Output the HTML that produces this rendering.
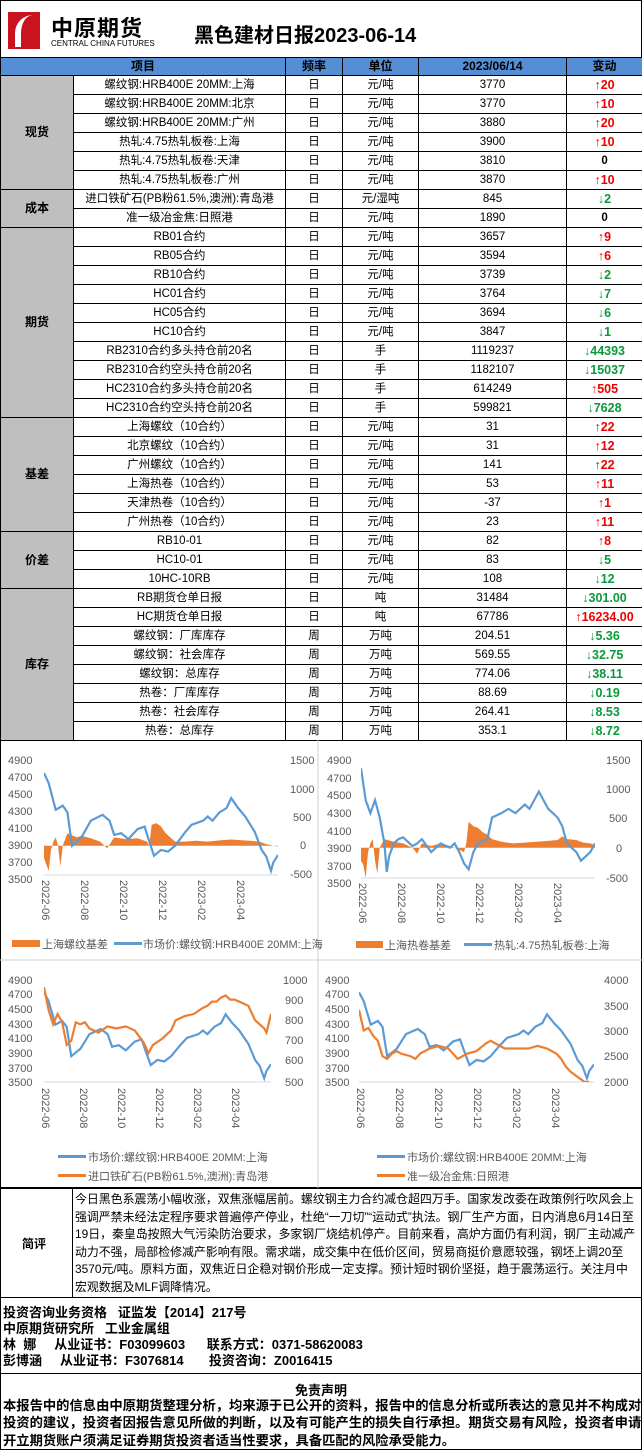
<!DOCTYPE html>
<html><head><meta charset="utf-8"><style>
*{margin:0;padding:0;box-sizing:border-box}
body{width:642px;height:1450px;background:#fff;font-family:"Liberation Sans","Noto Sans CJK SC",sans-serif;position:relative;overflow:hidden;color:#000}
.hdr{position:absolute;left:0;top:0;width:642px;height:57px;border:1px solid #000;border-bottom:none}
table{position:absolute;left:0;top:57px;border-collapse:collapse;table-layout:fixed;width:642px}
td{border:1px solid #000;height:19px;font-size:11.5px;text-align:center;padding:0;white-space:nowrap;line-height:17px}
tr.h td{background:#558ed5;font-weight:bold;height:18px;font-size:12px}
td.c{background:#bfbfbf;font-weight:bold;font-size:12px}
.u{color:#e00;font-weight:bold;font-size:12.5px!important}.d{color:#0a9a3a;font-weight:bold;font-size:12.5px!important}.z{font-weight:bold}
.box{position:absolute;border:1px solid #000}
svg text{font-family:"Liberation Sans","Noto Sans CJK SC",sans-serif;fill:#595959}
</style></head><body>
<div class="hdr">
 <div style="position:absolute;left:7px;top:11px;width:32px;height:37px;background:#c8141e"></div>
 <div style="position:absolute;left:14px;top:14px;width:22px;height:32px;border-left:6px solid #fff;border-radius:18px 0 0 0"></div>
 <div style="position:absolute;left:50px;top:10px;font-size:22px;font-weight:bold;letter-spacing:1px">中原期货</div>
 <div style="position:absolute;left:50px;top:38px;font-size:8px;">CENTRAL CHINA FUTURES</div>
 <div style="position:absolute;left:193px;top:18px;font-size:20px;font-weight:bold">黑色建材日报2023-06-14</div>
</div>
<table>
<colgroup><col style="width:73px"><col style="width:212px"><col style="width:57px"><col style="width:76px"><col style="width:148px"><col style="width:76px"></colgroup>
<tr class="h"><td colspan="2">项目</td><td>频率</td><td>单位</td><td>2023/06/14</td><td>变动</td></tr>
<tr><td class="c" rowspan="6">现货</td><td>螺纹钢:HRB400E 20MM:上海</td><td>日</td><td>元/吨</td><td>3770</td><td class="u">↑20</td></tr>
<tr><td>螺纹钢:HRB400E 20MM:北京</td><td>日</td><td>元/吨</td><td>3770</td><td class="u">↑10</td></tr>
<tr><td>螺纹钢:HRB400E 20MM:广州</td><td>日</td><td>元/吨</td><td>3880</td><td class="u">↑20</td></tr>
<tr><td>热轧:4.75热轧板卷:上海</td><td>日</td><td>元/吨</td><td>3900</td><td class="u">↑10</td></tr>
<tr><td>热轧:4.75热轧板卷:天津</td><td>日</td><td>元/吨</td><td>3810</td><td class="z">0</td></tr>
<tr><td>热轧:4.75热轧板卷:广州</td><td>日</td><td>元/吨</td><td>3870</td><td class="u">↑10</td></tr>
<tr><td class="c" rowspan="2">成本</td><td>进口铁矿石(PB粉61.5%,澳洲):青岛港</td><td>日</td><td>元/湿吨</td><td>845</td><td class="d">↓2</td></tr>
<tr><td>准一级冶金焦:日照港</td><td>日</td><td>元/吨</td><td>1890</td><td class="z">0</td></tr>
<tr><td class="c" rowspan="10">期货</td><td>RB01合约</td><td>日</td><td>元/吨</td><td>3657</td><td class="u">↑9</td></tr>
<tr><td>RB05合约</td><td>日</td><td>元/吨</td><td>3594</td><td class="u">↑6</td></tr>
<tr><td>RB10合约</td><td>日</td><td>元/吨</td><td>3739</td><td class="d">↓2</td></tr>
<tr><td>HC01合约</td><td>日</td><td>元/吨</td><td>3764</td><td class="d">↓7</td></tr>
<tr><td>HC05合约</td><td>日</td><td>元/吨</td><td>3694</td><td class="d">↓6</td></tr>
<tr><td>HC10合约</td><td>日</td><td>元/吨</td><td>3847</td><td class="d">↓1</td></tr>
<tr><td>RB2310合约多头持仓前20名</td><td>日</td><td>手</td><td>1119237</td><td class="d">↓44393</td></tr>
<tr><td>RB2310合约空头持仓前20名</td><td>日</td><td>手</td><td>1182107</td><td class="d">↓15037</td></tr>
<tr><td>HC2310合约多头持仓前20名</td><td>日</td><td>手</td><td>614249</td><td class="u">↑505</td></tr>
<tr><td>HC2310合约空头持仓前20名</td><td>日</td><td>手</td><td>599821</td><td class="d">↓7628</td></tr>
<tr><td class="c" rowspan="6">基差</td><td>上海螺纹（10合约）</td><td>日</td><td>元/吨</td><td>31</td><td class="u">↑22</td></tr>
<tr><td>北京螺纹（10合约）</td><td>日</td><td>元/吨</td><td>31</td><td class="u">↑12</td></tr>
<tr><td>广州螺纹（10合约）</td><td>日</td><td>元/吨</td><td>141</td><td class="u">↑22</td></tr>
<tr><td>上海热卷（10合约）</td><td>日</td><td>元/吨</td><td>53</td><td class="u">↑11</td></tr>
<tr><td>天津热卷（10合约）</td><td>日</td><td>元/吨</td><td>-37</td><td class="u">↑1</td></tr>
<tr><td>广州热卷（10合约）</td><td>日</td><td>元/吨</td><td>23</td><td class="u">↑11</td></tr>
<tr><td class="c" rowspan="3">价差</td><td>RB10-01</td><td>日</td><td>元/吨</td><td>82</td><td class="u">↑8</td></tr>
<tr><td>HC10-01</td><td>日</td><td>元/吨</td><td>83</td><td class="d">↓5</td></tr>
<tr><td>10HC-10RB</td><td>日</td><td>元/吨</td><td>108</td><td class="d">↓12</td></tr>
<tr><td class="c" rowspan="8">库存</td><td>RB期货仓单日报</td><td>日</td><td>吨</td><td>31484</td><td class="d">↓301.00</td></tr>
<tr><td>HC期货仓单日报</td><td>日</td><td>吨</td><td>67786</td><td class="u">↑16234.00</td></tr>
<tr><td>螺纹钢：厂库库存</td><td>周</td><td>万吨</td><td>204.51</td><td class="d">↓5.36</td></tr>
<tr><td>螺纹钢：社会库存</td><td>周</td><td>万吨</td><td>569.55</td><td class="d">↓32.75</td></tr>
<tr><td>螺纹钢：总库存</td><td>周</td><td>万吨</td><td>774.06</td><td class="d">↓38.11</td></tr>
<tr><td>热卷：厂库库存</td><td>周</td><td>万吨</td><td>88.69</td><td class="d">↓0.19</td></tr>
<tr><td>热卷：社会库存</td><td>周</td><td>万吨</td><td>264.41</td><td class="d">↓8.53</td></tr>
<tr><td>热卷：总库存</td><td>周</td><td>万吨</td><td>353.1</td><td class="d">↓8.72</td></tr>
</table>

<svg style="position:absolute;left:0;top:740px" width="642" height="448" viewBox="0 0 642 448">
<rect x="0.5" y="0.5" width="641" height="447" fill="#fff" stroke="#000"/>
<line x1="318" y1="0" x2="318" y2="448" stroke="#d0d0d0"/>
<line x1="0" y1="220" x2="642" y2="220" stroke="#d0d0d0"/>
<g font-size="11" fill="#595959">
<g>
 <text x="8" y="24">4900</text><text x="8" y="41">4700</text><text x="8" y="58">4500</text><text x="8" y="75">4300</text><text x="8" y="92">4100</text><text x="8" y="109">3900</text><text x="8" y="126">3700</text><text x="8" y="143">3500</text>
 <text x="290" y="24">1500</text><text x="290" y="53">1000</text><text x="293" y="81">500</text><text x="300" y="109">0</text><text x="290" y="138">-500</text>
 <line x1="44" y1="135" x2="278" y2="135" stroke="#d9d9d9"/>
 <svg x="44" y="18" width="234" height="117" viewBox="0 0 100 1400" preserveAspectRatio="none">
  <polygon fill="#ed7d31" points="0,1050 0,1200 2,1350 3,1100 4,1000 5,950 6,1050 7,1300 8,1050 10,900 14,950 16,930 20,960 24,1000 27,1080 30,950 35,970 40,960 44,1000 45,1050 46,800 48,780 50,820 52,900 56,1000 60,1000 65,990 70,1000 75,985 80,975 85,985 88,990 92,1000 95,1030 100,1060 100,1050"/>
  <polyline fill="none" stroke="#5b9bd5" stroke-width="2.2" vector-effect="non-scaling-stroke" points="0,180 2,300 5,620 8,570 10,650 12,1050 14,1000 16,950 18,850 20,750 25,680 28,750 30,920 33,900 36,970 40,850 43,820 45,1000 47,1170 50,1100 53,1120 56,1050 60,900 63,800 68,750 70,700 72,750 75,650 78,600 80,480 83,600 86,700 90,880 93,1100 95,1180 97,1350 98,1250 100,1160"/>
 </svg>
 <g font-size="11"><text transform="translate(42,140) rotate(90)">2022-06</text><text transform="translate(81,140) rotate(90)">2022-08</text><text transform="translate(120,140) rotate(90)">2022-10</text><text transform="translate(159,140) rotate(90)">2022-12</text><text transform="translate(198,140) rotate(90)">2023-02</text><text transform="translate(237,140) rotate(90)">2023-04</text></g>
 <rect x="12" y="200" width="28" height="7" fill="#ed7d31"/><text x="42" y="208">上海螺纹基差</text>
 <rect x="114" y="202" width="28" height="3" fill="#5b9bd5"/><text x="143" y="208">市场价:螺纹钢:HRB400E 20MM:上海</text>
</g>
<g>
 <text x="327" y="24">4900</text><text x="327" y="42">4700</text><text x="327" y="59">4500</text><text x="327" y="77">4300</text><text x="327" y="95">4100</text><text x="327" y="112">3900</text><text x="327" y="130">3700</text><text x="327" y="147">3500</text>
 <text x="606" y="24">1500</text><text x="606" y="53">1000</text><text x="609" y="82">500</text><text x="616" y="112">0</text><text x="606" y="142">-500</text>
 <line x1="361" y1="138" x2="595" y2="138" stroke="#d9d9d9"/>
 <svg x="361" y="17" width="234" height="121" viewBox="0 0 100 1400" preserveAspectRatio="none">
  <polygon fill="#ed7d31" points="0,1050 0,1200 1,1250 2,1400 3,1100 4,1000 5,950 6,1200 7,1350 8,1050 10,950 14,980 18,1000 22,1050 24,1120 26,1000 30,1030 34,1000 38,1030 40,1050 44,1100 45,1000 46,750 48,800 50,820 52,870 54,900 56,950 60,980 65,1000 70,990 75,980 80,970 84,960 86,920 88,950 92,960 95,990 98,1000 100,1020 100,1050"/>
  <polyline fill="none" stroke="#5b9bd5" stroke-width="2.2" vector-effect="non-scaling-stroke" points="0,130 2,500 4,650 6,500 8,700 10,1000 11,1330 12,1150 14,1000 16,950 18,930 20,980 22,1030 24,1000 26,950 30,1100 34,1000 38,1050 40,1000 42,1100 44,1230 46,1300 48,1100 50,1000 54,950 56,700 60,650 63,600 66,650 70,550 72,600 74,500 76,400 78,500 80,600 82,650 84,700 86,800 88,1000 90,1050 92,1100 94,1200 96,1150 98,1100 100,1000"/>
 </svg>
 <g><text transform="translate(359,143) rotate(90)">2022-06</text><text transform="translate(398,143) rotate(90)">2022-08</text><text transform="translate(437,143) rotate(90)">2022-10</text><text transform="translate(476,143) rotate(90)">2022-12</text><text transform="translate(515,143) rotate(90)">2023-02</text><text transform="translate(554,143) rotate(90)">2023-04</text></g>
 <rect x="356" y="201" width="27" height="7" fill="#ed7d31"/><text x="385" y="209">上海热卷基差</text>
 <rect x="464" y="203" width="28" height="3" fill="#5b9bd5"/><text x="494" y="209">热轧:4.75热轧板卷:上海</text>
</g>
<g>
 <text x="8" y="244">4900</text><text x="8" y="258">4700</text><text x="8" y="273">4500</text><text x="8" y="288">4300</text><text x="8" y="302">4100</text><text x="8" y="317">3900</text><text x="8" y="332">3700</text><text x="8" y="346">3500</text>
 <text x="283" y="244">1000</text><text x="285" y="264">900</text><text x="285" y="284">800</text><text x="285" y="304">700</text><text x="285" y="324">600</text><text x="285" y="346">500</text>
 <line x1="44" y1="342" x2="271" y2="342" stroke="#d9d9d9"/>
 <svg x="44" y="239" width="227" height="103" viewBox="0 0 100 1400" preserveAspectRatio="none">
  <polyline fill="none" stroke="#5b9bd5" stroke-width="2.2" vector-effect="non-scaling-stroke" points="0,180 2,300 5,620 8,570 10,650 12,1050 14,1000 16,950 18,850 20,750 25,680 28,750 30,920 33,900 36,970 40,850 43,820 45,1000 47,1170 50,1100 53,1120 56,1050 60,900 63,800 68,750 70,700 72,750 75,650 78,600 80,480 83,600 86,700 90,880 93,1100 95,1180 97,1350 98,1250 100,1160"/>
  <polyline fill="none" stroke="#ed7d31" stroke-width="2.2" vector-effect="non-scaling-stroke" points="0,112 2,420 4,616 6,476 8,588 10,896 12,840 14,588 16,616 18,588 20,672 24,728 28,644 32,672 36,644 40,700 42,784 44,868 46,1008 48,896 52,812 56,700 58,560 62,504 66,476 70,392 72,364 74,308 76,308 78,252 80,224 82,280 84,280 86,308 90,364 93,560 95,616 97,672 98,728 100,476"/>
 </svg>
 <g><text transform="translate(42,348) rotate(90)">2022-06</text><text transform="translate(80,348) rotate(90)">2022-08</text><text transform="translate(118,348) rotate(90)">2022-10</text><text transform="translate(156,348) rotate(90)">2022-12</text><text transform="translate(194,348) rotate(90)">2023-02</text><text transform="translate(232,348) rotate(90)">2023-04</text></g>
 <rect x="58" y="415" width="28" height="3" fill="#5b9bd5"/><text x="88" y="421">市场价:螺纹钢:HRB400E 20MM:上海</text>
 <rect x="58" y="434" width="28" height="3" fill="#ed7d31"/><text x="88" y="440">进口铁矿石(PB粉61.5%,澳洲):青岛港</text>
</g>
<g>
 <text x="325" y="244">4900</text><text x="325" y="258">4700</text><text x="325" y="273">4500</text><text x="325" y="288">4300</text><text x="325" y="302">4100</text><text x="325" y="317">3900</text><text x="325" y="332">3700</text><text x="325" y="346">3500</text>
 <text x="604" y="244">4000</text><text x="604" y="270">3500</text><text x="604" y="295">3000</text><text x="604" y="320">2500</text><text x="604" y="346">2000</text>
 <line x1="359" y1="342" x2="594" y2="342" stroke="#d9d9d9"/>
 <svg x="359" y="239" width="235" height="103" viewBox="0 0 100 1400" preserveAspectRatio="none">
  <polyline fill="none" stroke="#5b9bd5" stroke-width="2.2" vector-effect="non-scaling-stroke" points="0,180 2,300 5,620 8,570 10,650 12,1050 14,1000 16,950 18,850 20,750 25,680 28,750 30,920 33,900 36,970 40,850 43,820 45,1000 47,1170 50,1100 53,1120 56,1050 60,900 63,800 68,750 70,700 72,750 75,650 78,600 80,480 83,600 86,700 90,880 93,1100 95,1180 97,1350 98,1250 100,1160"/>
  <polyline fill="none" stroke="#ed7d31" stroke-width="2.2" vector-effect="non-scaling-stroke" points="0,420 2,700 4,665 6,770 8,840 10,1050 12,1085 14,1015 16,980 18,1015 22,1050 24,1085 26,1015 30,945 34,910 38,945 40,1015 42,1085 46,1015 50,980 54,875 56,840 58,875 62,945 68,945 72,945 76,910 80,945 84,1015 86,1085 88,1190 90,1260 93,1330 96,1400 98,1400"/>
 </svg>
 <g><text transform="translate(357,348) rotate(90)">2022-06</text><text transform="translate(396,348) rotate(90)">2022-08</text><text transform="translate(435,348) rotate(90)">2022-10</text><text transform="translate(474,348) rotate(90)">2022-12</text><text transform="translate(513,348) rotate(90)">2023-02</text><text transform="translate(552,348) rotate(90)">2023-04</text></g>
 <rect x="377" y="415" width="28" height="3" fill="#5b9bd5"/><text x="407" y="421">市场价:螺纹钢:HRB400E 20MM:上海</text>
 <rect x="377" y="434" width="28" height="3" fill="#ed7d31"/><text x="407" y="440">准一级冶金焦:日照港</text>
</g>
</g>
</svg>

<div class="box" style="left:0;top:1188px;width:642px;height:110px"></div>
<div class="box" style="left:72px;top:1188px;width:1px;height:110px;border-width:0 0 0 1px"></div>
<div style="position:absolute;left:22px;top:1235px;font-size:12px;font-weight:bold">简评</div>
<div style="position:absolute;left:75px;top:1191px;width:563px;font-size:11.9px;line-height:17.5px">今日黑色系震荡小幅收涨，双焦涨幅居前。螺纹钢主力合约减仓超四万手。国家发改委在政策例行吹风会上强调严禁未经法定程序要求普遍停产停业，杜绝“一刀切”“运动式”执法。钢厂生产方面，日内消息6月14日至19日，秦皇岛按照大气污染防治要求，多家钢厂烧结机停产。目前来看，高炉方面仍有利润，钢厂主动减产动力不强，局部检修减产影响有限。需求端，成交集中在低价区间，贸易商挺价意愿较强，钢坯上调20至3570元/吨。原料方面，双焦近日企稳对钢价形成一定支撑。预计短时钢价坚挺，趋于震荡运行。关注月中宏观数据及MLF调降情况。</div>
<div class="box" style="left:0;top:1297px;width:642px;height:77px"></div>
<div style="position:absolute;left:3px;top:1305px;font-size:13px;font-weight:bold;line-height:16px;white-space:pre">投资咨询业务资格   证监发【2014】217号
中原期货研究所   工业金属组
林  娜     从业证书：F03099603      联系方式：0371-58620083
彭博涵     从业证书：F3076814       投资咨询：Z0016415</div>
<div class="box" style="left:0;top:1373px;width:642px;height:77px"></div>
<div style="position:absolute;left:0;top:1380px;width:642px;text-align:center;font-size:13px;font-weight:bold">免责声明</div>
<div style="position:absolute;left:3px;top:1397px;width:639px;font-size:13.3px;font-weight:bold;line-height:17.3px">本报告中的信息由中原期货整理分析，均来源于已公开的资料，报告中的信息分析或所表达的意见并不构成对投资的建议，投资者因报告意见所做的判断，以及有可能产生的损失自行承担。期货交易有风险，投资者申请开立期货账户须满足证券期货投资者适当性要求，具备匹配的风险承受能力。</div>
</body></html>
